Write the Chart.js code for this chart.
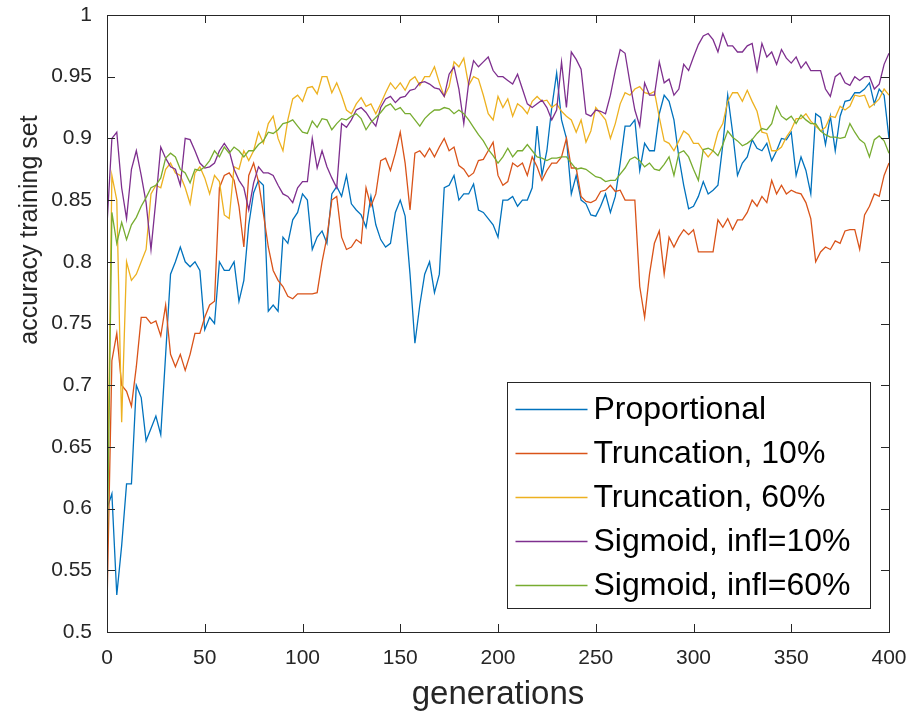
<!DOCTYPE html>
<html>
<head>
<meta charset="utf-8">
<script src="https://cdn.jsdelivr.net/npm/chart.js@4.4.1/dist/chart.umd.min.js"></script>
<style>
  html, body { margin: 0; padding: 0; background: #fff; }
  canvas { display: block; }
</style>
</head>
<body>
<canvas id="accuracy_chart" width="910" height="715"></canvas>
<script>
// generations (x values), one sample every 2.5 generations
const generations = [
    0, 2.5, 5, 7.5, 10, 12.5, 15, 17.5, 20, 22.5,
    25, 27.5, 30, 32.5, 35, 37.5, 40, 42.5, 45, 47.5,
    50, 52.5, 55, 57.5, 60, 62.5, 65, 67.5, 70, 72.5,
    75, 77.5, 80, 82.5, 85, 87.5, 90, 92.5, 95, 97.5,
    100, 102.5, 105, 107.5, 110, 112.5, 115, 117.5, 120, 122.5,
    125, 127.5, 130, 132.5, 135, 137.5, 140, 142.5, 145, 147.5,
    150, 152.5, 155, 157.5, 160, 162.5, 165, 167.5, 170, 172.5,
    175, 177.5, 180, 182.5, 185, 187.5, 190, 192.5, 195, 197.5,
    200, 202.5, 205, 207.5, 210, 212.5, 215, 217.5, 220, 222.5,
    225, 227.5, 230, 232.5, 235, 237.5, 240, 242.5, 245, 247.5,
    250, 252.5, 255, 257.5, 260, 262.5, 265, 267.5, 270, 272.5,
    275, 277.5, 280, 282.5, 285, 287.5, 290, 292.5, 295, 297.5,
    300, 302.5, 305, 307.5, 310, 312.5, 315, 317.5, 320, 322.5,
    325, 327.5, 330, 332.5, 335, 337.5, 340, 342.5, 345, 347.5,
    350, 352.5, 355, 357.5, 360, 362.5, 365, 367.5, 370, 372.5,
    375, 377.5, 380, 382.5, 385, 387.5, 390, 392.5, 395, 397.5,
    400
];

const proportional = [
    0.60, 0.612, 0.53, 0.57, 0.62, 0.62, 0.70, 0.69, 0.655, 0.665,
    0.675, 0.66, 0.725, 0.79, 0.80, 0.812, 0.80, 0.796, 0.80, 0.793,
    0.745, 0.755, 0.75, 0.80, 0.793, 0.793, 0.80, 0.768, 0.785, 0.83,
    0.856, 0.866, 0.862, 0.76, 0.765, 0.76, 0.82, 0.815, 0.834, 0.84,
    0.855, 0.85, 0.81, 0.82, 0.825, 0.815, 0.855, 0.861, 0.853, 0.87,
    0.847, 0.842, 0.838, 0.828, 0.853, 0.83, 0.818, 0.812, 0.815, 0.84,
    0.85, 0.837, 0.79, 0.734, 0.765, 0.79, 0.80, 0.775, 0.79, 0.86,
    0.862, 0.87, 0.85, 0.855, 0.855, 0.863, 0.842, 0.84, 0.835, 0.83,
    0.82, 0.85, 0.85, 0.853, 0.845, 0.85, 0.85, 0.86, 0.91, 0.87,
    0.89, 0.925, 0.953, 0.915, 0.90, 0.855, 0.87, 0.85, 0.847, 0.838,
    0.837, 0.845, 0.855, 0.84, 0.853, 0.88, 0.91, 0.91, 0.915, 0.874,
    0.896, 0.89, 0.89, 0.92, 0.935, 0.93, 0.915, 0.885, 0.862, 0.843,
    0.845, 0.853, 0.865, 0.855, 0.858, 0.862, 0.895, 0.935, 0.905, 0.87,
    0.88, 0.885, 0.899, 0.892, 0.89, 0.896, 0.882, 0.89, 0.90, 0.899,
    0.905, 0.87, 0.885, 0.874, 0.855, 0.92, 0.917, 0.895, 0.918, 0.89,
    0.918, 0.93, 0.931, 0.937, 0.937, 0.94, 0.945, 0.928, 0.94, 0.935,
    0.90
];

const truncation10 = [
    0.52, 0.72, 0.742, 0.70, 0.695, 0.683, 0.715, 0.755, 0.755, 0.75,
    0.752, 0.74, 0.765, 0.725, 0.715, 0.725, 0.712, 0.725, 0.742, 0.742,
    0.755, 0.765, 0.768, 0.86, 0.87, 0.872, 0.866, 0.845, 0.812, 0.87,
    0.88, 0.865, 0.839, 0.812, 0.793, 0.785, 0.78, 0.772, 0.77, 0.774,
    0.774, 0.774, 0.774, 0.775, 0.80, 0.82, 0.85, 0.853, 0.82, 0.81,
    0.812, 0.818, 0.815, 0.86, 0.845, 0.855, 0.882, 0.884, 0.874, 0.888,
    0.905, 0.88, 0.842, 0.888, 0.89, 0.885, 0.892, 0.885, 0.893, 0.90,
    0.89, 0.893, 0.878, 0.875, 0.869, 0.872, 0.882, 0.883, 0.89, 0.897,
    0.87, 0.862, 0.865, 0.88, 0.877, 0.88, 0.87, 0.885, 0.877, 0.866,
    0.874, 0.88, 0.88, 0.885, 0.90, 0.876, 0.876, 0.853, 0.849, 0.848,
    0.85, 0.857, 0.858, 0.862, 0.857, 0.858, 0.85, 0.85, 0.85, 0.78,
    0.755, 0.79, 0.815, 0.825, 0.79, 0.82, 0.812, 0.82, 0.826, 0.822,
    0.826, 0.808, 0.808, 0.808, 0.808, 0.834, 0.828, 0.835, 0.826, 0.834,
    0.834, 0.84, 0.85, 0.845, 0.853, 0.848, 0.866, 0.855, 0.862, 0.855,
    0.858, 0.856, 0.855, 0.848, 0.835, 0.80, 0.808, 0.812, 0.81, 0.817,
    0.815, 0.825, 0.826, 0.826, 0.81, 0.838, 0.845, 0.855, 0.853, 0.87,
    0.88
];

const truncation60 = [
    0.58, 0.87, 0.85, 0.67, 0.80, 0.785, 0.79, 0.80, 0.81, 0.855,
    0.862, 0.86, 0.875, 0.88, 0.872, 0.87, 0.86, 0.847, 0.872, 0.877,
    0.868, 0.855, 0.87, 0.865, 0.838, 0.835, 0.877, 0.875, 0.89, 0.882,
    0.89, 0.905, 0.896, 0.912, 0.918, 0.90, 0.89, 0.915, 0.932, 0.935,
    0.93, 0.941, 0.942, 0.936, 0.95, 0.95, 0.937, 0.945, 0.935, 0.923,
    0.92, 0.928, 0.933, 0.926, 0.928, 0.92, 0.928, 0.937, 0.945, 0.94,
    0.945, 0.939, 0.947, 0.95, 0.943, 0.95, 0.95, 0.958, 0.945, 0.934,
    0.942, 0.962, 0.958, 0.965, 0.943, 0.95, 0.948, 0.935, 0.92, 0.915,
    0.934, 0.925, 0.932, 0.918, 0.928, 0.925, 0.92, 0.93, 0.934, 0.93,
    0.931, 0.925, 0.928, 0.922, 0.918, 0.915, 0.905, 0.915, 0.897, 0.906,
    0.925, 0.92, 0.915, 0.90, 0.912, 0.928, 0.937, 0.935, 0.94, 0.942,
    0.937, 0.936, 0.938, 0.917, 0.898, 0.896, 0.89, 0.898, 0.906, 0.903,
    0.896, 0.896, 0.89, 0.885, 0.89, 0.905, 0.912, 0.93, 0.937, 0.937,
    0.93, 0.939, 0.93, 0.922, 0.905, 0.904, 0.89, 0.89, 0.893, 0.901,
    0.907, 0.916, 0.916, 0.92, 0.914, 0.91, 0.906, 0.909, 0.918, 0.917,
    0.926, 0.923, 0.926, 0.935, 0.934, 0.935, 0.925, 0.928, 0.932, 0.94,
    0.935
];

const sigmoid10 = [
    0.83, 0.90, 0.905, 0.86, 0.835, 0.875, 0.89, 0.87, 0.848, 0.81,
    0.85, 0.893, 0.884, 0.877, 0.875, 0.862, 0.90, 0.899, 0.89, 0.88,
    0.876, 0.877, 0.88, 0.89, 0.896, 0.89, 0.875, 0.866, 0.86, 0.842,
    0.864, 0.877, 0.872, 0.872, 0.87, 0.862, 0.855, 0.853, 0.848, 0.86,
    0.865, 0.865, 0.90, 0.876, 0.89, 0.877, 0.868, 0.86, 0.912, 0.909,
    0.915, 0.923, 0.925, 0.921, 0.915, 0.91, 0.925, 0.932, 0.934, 0.929,
    0.933, 0.934, 0.939, 0.94, 0.945, 0.946, 0.944, 0.941, 0.94, 0.934,
    0.952, 0.958, 0.94, 0.912, 0.945, 0.963, 0.958, 0.962, 0.966, 0.955,
    0.95, 0.95, 0.947, 0.944, 0.952, 0.94, 0.928, 0.925, 0.928, 0.931,
    0.925, 0.915, 0.923, 0.962, 0.925, 0.97, 0.964, 0.956, 0.92, 0.918,
    0.923, 0.922, 0.92, 0.935, 0.955, 0.972, 0.969, 0.945, 0.923, 0.91,
    0.945, 0.935, 0.935, 0.962, 0.945, 0.948, 0.935, 0.94, 0.96, 0.955,
    0.966, 0.976, 0.983, 0.985, 0.98, 0.97, 0.985, 0.975, 0.975, 0.97,
    0.97, 0.975, 0.977, 0.955, 0.977, 0.966, 0.97, 0.96, 0.972, 0.965,
    0.961, 0.966, 0.957, 0.962, 0.955, 0.955, 0.955, 0.94, 0.934, 0.95,
    0.953, 0.945, 0.943, 0.95, 0.947, 0.95, 0.95, 0.94, 0.944, 0.96,
    0.969
];

const sigmoid60 = [
    0.55, 0.84, 0.815, 0.832, 0.818, 0.83, 0.836, 0.845, 0.852, 0.86,
    0.862, 0.868, 0.884, 0.888, 0.885, 0.875, 0.872, 0.864, 0.875, 0.874,
    0.877, 0.882, 0.89, 0.885, 0.893, 0.888, 0.893, 0.89, 0.885, 0.89,
    0.89, 0.895, 0.898, 0.905, 0.904, 0.907, 0.912, 0.913, 0.915, 0.91,
    0.905, 0.904, 0.914, 0.909, 0.916, 0.915, 0.907, 0.912, 0.916, 0.915,
    0.918, 0.92, 0.916, 0.907, 0.913, 0.917, 0.921, 0.926, 0.928, 0.923,
    0.925, 0.92, 0.92, 0.915, 0.91, 0.916, 0.92, 0.923, 0.923, 0.925,
    0.924, 0.92, 0.923, 0.92, 0.915, 0.909, 0.903, 0.898, 0.891, 0.886,
    0.88, 0.885, 0.892, 0.885, 0.89, 0.89, 0.895, 0.89, 0.885, 0.884,
    0.882, 0.884, 0.884, 0.885, 0.885, 0.88, 0.875, 0.876, 0.875, 0.872,
    0.869, 0.868, 0.865, 0.866, 0.866, 0.871, 0.876, 0.883, 0.885, 0.882,
    0.877, 0.88, 0.875, 0.874, 0.879, 0.885, 0.87, 0.888, 0.89, 0.885,
    0.875, 0.866, 0.891, 0.892, 0.89, 0.886, 0.895, 0.906, 0.901, 0.898,
    0.894, 0.896, 0.899, 0.904, 0.908, 0.907, 0.912, 0.926, 0.918, 0.915,
    0.918, 0.912, 0.919, 0.915, 0.912, 0.912, 0.906, 0.903, 0.901, 0.901,
    0.90, 0.901, 0.912, 0.905, 0.899, 0.896, 0.885, 0.899, 0.902, 0.898,
    0.888
];

const seriesNames = ['Proportional', 'Truncation, 10%', 'Truncation, 60%', 'Sigmoid, infl=10%', 'Sigmoid, infl=60%'];
const seriesValues = [proportional, truncation10, truncation60, sigmoid10, sigmoid60];
const seriesColors = ['#0072BD', '#D95319', '#EDB120', '#7E2F8E', '#77AC30'];

const xTickValues = [0, 50, 100, 150, 200, 250, 300, 350, 400];
const yTickValues = [0.5, 0.55, 0.6, 0.65, 0.7, 0.75, 0.8, 0.85, 0.9, 0.95, 1];
const yTickLabels = ['0.5', '0.55', '0.6', '0.65', '0.7', '0.75', '0.8', '0.85', '0.9', '0.95', '1'];
const yTitle = 'accuracy training set';

const FONT = "'Liberation Sans', Arial, Helvetica, sans-serif";
const INK = '#262626';

// box round the axes, inward ticks on all four sides, y title, legend in the lower right
const matlabAxes = {
    id: 'matlabAxes',
    afterDraw(chart) {
        const ctx = chart.ctx;
        const a = chart.chartArea;
        const x = chart.scales.x, y = chart.scales.y;
        ctx.save();
        ctx.strokeStyle = INK;
        ctx.lineWidth = 1;
        ctx.beginPath();
        x.ticks.forEach(t => {
            const px = Math.round(x.getPixelForValue(t.value)) + 0.5;
            ctx.moveTo(px, a.bottom); ctx.lineTo(px, a.bottom - 8);
            ctx.moveTo(px, a.top); ctx.lineTo(px, a.top + 8);
        });
        y.ticks.forEach(t => {
            const py = Math.round(y.getPixelForValue(t.value)) + 0.5;
            ctx.moveTo(a.left, py); ctx.lineTo(a.left + 8, py);
            ctx.moveTo(a.right, py); ctx.lineTo(a.right - 8, py);
        });
        ctx.stroke();
        ctx.strokeRect(Math.round(a.left) + 0.5, Math.round(a.top) + 0.5,
                       Math.round(a.right - a.left), Math.round(a.bottom - a.top));

        // y axis title (sits above the middle of the axis in the original)
        ctx.save();
        ctx.translate(a.left - 77, a.top + 215);
        ctx.rotate(-Math.PI / 2);
        ctx.font = '25px ' + FONT;
        ctx.fillStyle = INK;
        ctx.textAlign = 'center';
        ctx.textBaseline = 'middle';
        ctx.fillText(yTitle, 0, 0);
        ctx.restore();

        // legend
        const w = 363, h = 226;
        const bx = Math.round(a.right - 19 - w) + 0.5;
        const by = Math.round(a.bottom - 24 - h) + 0.5;
        ctx.fillStyle = '#fff';
        ctx.fillRect(bx, by, w, h);
        ctx.strokeRect(bx, by, w, h);
        ctx.font = '32px ' + FONT;
        ctx.textBaseline = 'middle';
        ctx.textAlign = 'left';
        chart.data.datasets.forEach((ds, i) => {
            const ry = Math.round(by + 26 + i * 44) + 0.5;
            ctx.strokeStyle = ds.borderColor;
            ctx.lineWidth = 1.3;
            ctx.beginPath();
            ctx.moveTo(bx + 8, ry);
            ctx.lineTo(bx + 80, ry);
            ctx.stroke();
            ctx.fillStyle = '#000';
            ctx.fillText(ds.label, bx + 86, ry + 1);
        });
        ctx.restore();
    }
};

const ctx = document.getElementById('accuracy_chart');
const accuracyChart = new Chart(ctx, {
    type: 'line',
    data: {
        datasets: seriesValues.map((vals, i) => ({
            label: seriesNames[i],
            data: vals.map((v, j) => ({ x: generations[j], y: v })),
            borderColor: seriesColors[i],
            backgroundColor: seriesColors[i],
            borderWidth: 1.3,
            fill: false,
            order: seriesValues.length - 1 - i
        }))
    },
    options: {
        responsive: false,
        animation: false,
        devicePixelRatio: 1,
        layout: { padding: { top: 15, right: 21, left: 0, bottom: 0 } },
        elements: { point: { radius: 0 }, line: { tension: 0 } },
        plugins: { legend: { display: false }, tooltip: { enabled: false } },
        scales: {
            x: {
                type: 'linear',
                min: 0,
                max: 400,
                afterBuildTicks: s => { s.ticks = xTickValues.map(v => ({ value: v })); },
                // fixed axis band; label overhang is covered by the layout padding
                afterFit: s => { s.height = 83; s.paddingLeft = 0; s.paddingRight = 0; },
                grid: { display: false, drawTicks: false },
                border: { display: false },
                ticks: { autoSkip: false, maxRotation: 0, padding: 14, color: INK, font: { family: FONT, size: 21 } },
                title: { display: true, text: 'generations', color: INK, font: { family: FONT, size: 33 }, padding: { top: 0, bottom: 0 } }
            },
            y: {
                min: 0.5,
                max: 1,
                afterBuildTicks: s => { s.ticks = yTickValues.map(v => ({ value: v })); },
                afterFit: s => { s.width = 107; s.paddingTop = 0; s.paddingBottom = 0; },
                grid: { display: false, drawTicks: false },
                border: { display: false },
                ticks: {
                    autoSkip: false, padding: 15, color: INK, font: { family: FONT, size: 21 },
                    callback: (value, index) => yTickLabels[index]
                }
            }
        }
    },
    plugins: [matlabAxes]
});
</script>
</body>
</html>
